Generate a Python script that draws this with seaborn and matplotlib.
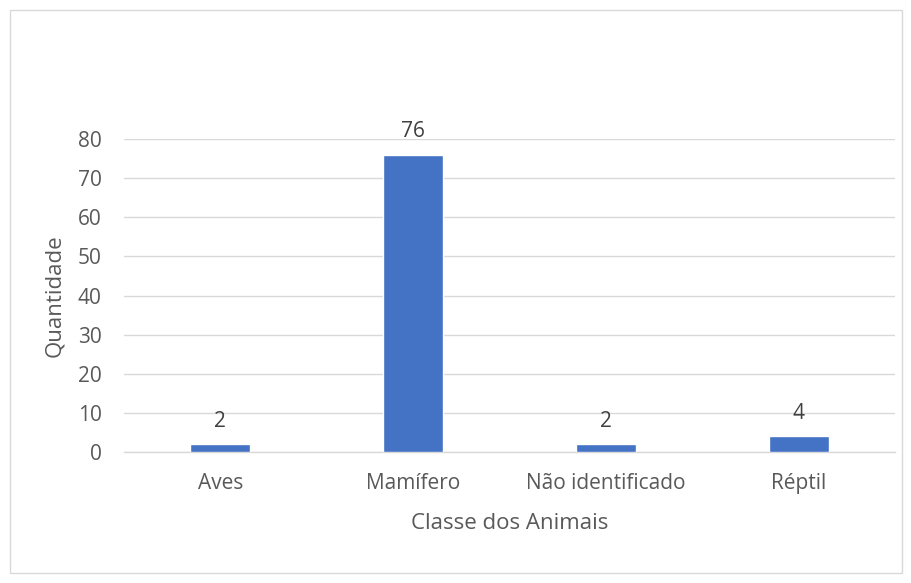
import matplotlib
matplotlib.use("Agg")
import matplotlib.pyplot as plt
import seaborn as sns
import pandas as pd
from matplotlib.patches import Rectangle

categories = ["Aves", "Mamífero", "Não identificado", "Réptil"]
values = [2, 76, 2, 4]
yticks = [0, 10, 20, 30, 40, 50, 60, 70, 80]

sns.set_theme(style="white")
plt.rcParams['font.family'] = ['Open Sans', 'DejaVu Sans']

df = pd.DataFrame({"Classe": categories, "Quantidade": values})

fig = plt.figure(figsize=(9.12, 5.83), dpi=100)
ax = fig.add_axes([124/912, 1-452/583, (895-124)/912, (452-139)/583])

sns.barplot(data=df, x="Classe", y="Quantidade", color="#4472C4", width=0.31,
            saturation=1, ax=ax, zorder=3)

ax.set_ylim(0, 80)
ax.set_yticks(yticks)
ax.set_xlim(-0.5, len(categories) - 0.5)
ax.yaxis.grid(True, color="#D9D9D9", linewidth=1.0, zorder=0)
ax.set_axisbelow(True)
for s in ["top", "right", "left"]:
    ax.spines[s].set_visible(False)
ax.spines["bottom"].set_color("#D9D9D9")
ax.spines["bottom"].set_linewidth(1.0)
ax.spines["bottom"].set_zorder(1)
ax.tick_params(axis="both", length=0, labelsize=15, colors="#595959")
ax.tick_params(axis="y", pad=16)
ax.tick_params(axis="x", pad=15)

ax.set_xlabel("Classe dos Animais", fontsize=16, color="#595959", labelpad=14)
ax.set_ylabel("Quantidade", fontsize=16, color="#595959", labelpad=9)

for c in ax.containers:
    ax.bar_label(c, labels=[str(v) for v in values], padding=9, fontsize=15, color="#404040")

fig.patches.append(Rectangle((10/912, 10/583), (902-10)/912, (573-10)/583,
                             transform=fig.transFigure, fill=False,
                             edgecolor="#D9D9D9", linewidth=1.0))

fig.savefig("out.png", dpi=100)
